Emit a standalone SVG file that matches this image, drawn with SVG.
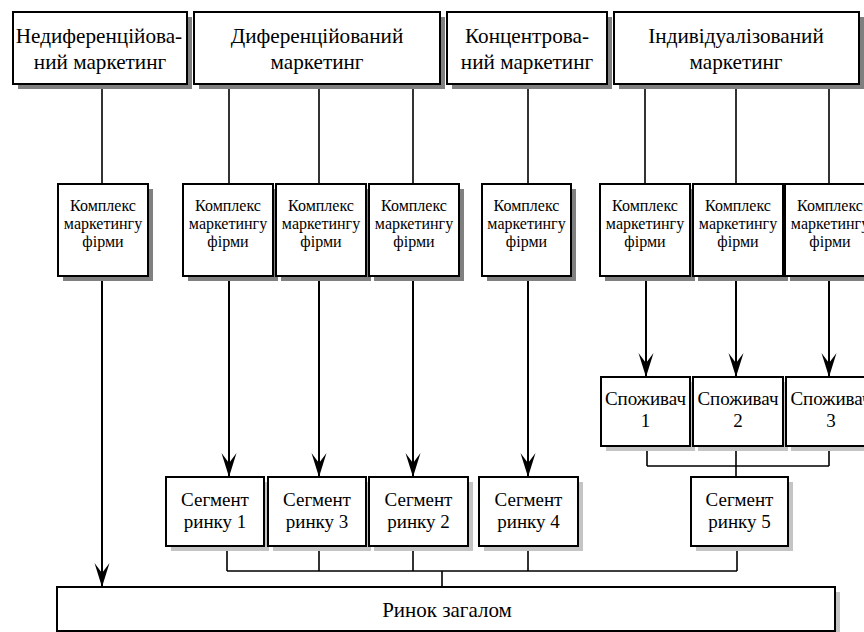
<svg xmlns="http://www.w3.org/2000/svg" width="864" height="632" viewBox="0 0 864 632">
  <defs>
    <style>
      .box { fill: #ffffff; stroke: #000000; stroke-width: 2; }
      .shd { fill: #808080; }
      .shl { fill: #c4c4c4; }
      text { font-family: 'Liberation Serif', 'DejaVu Serif', serif; fill: #000000; text-anchor: middle; }
      .t20 { font-size: 21.2px; }
      .t16 { font-size: 16px; }
      .t19 { font-size: 19px; }
      .t21 { font-size: 21px; }
      .ln { fill: none; stroke: #000000; stroke-width: 1.6; }
      .arr { fill: none; stroke: #000000; stroke-width: 2; marker-end: url(#head); }
    </style>
    <marker id="head" markerUnits="userSpaceOnUse" markerWidth="26" markerHeight="18" viewBox="-25 -9 26 18" refX="0" refY="0" orient="auto">
      <path d="M0,0 L-24,-7.5 L-14,0 L-24,7.5 Z" fill="#000000"/>
    </marker>
  </defs>
  <rect width="864" height="632" fill="#ffffff"/>

  <!-- connectors -->
  <g id="connectors">
    <!-- top boxes to marketing complexes -->
    <path class="ln" d="M102,84 V184 M229,84 V184 M319,84 V184 M413,84 V184 M528,84 V184 M645,84 V184 M736,84 V184 M829,84 V184"/>
    <!-- complexes to segments / consumers / market -->
    <path class="arr" d="M102,276 V587"/>
    <path class="arr" d="M229,276 V477"/>
    <path class="arr" d="M319,276 V477"/>
    <path class="arr" d="M413,276 V477"/>
    <path class="arr" d="M528,276 V477"/>
    <path class="arr" d="M646,276 V377"/>
    <path class="arr" d="M736,276 V377"/>
    <path class="arr" d="M829,276 V377"/>
    <!-- consumers join into segment 5 -->
    <path class="ln" d="M647,446 V466 M736,446 V477 M829,446 V466 M647,466 H829"/>
    <!-- segments join into whole market -->
    <path class="ln" d="M227,546 V571 M319,546 V571 M413,546 V571 M528,546 V571 M737,546 V571 M227,571 H737 M442,571 V587"/>
  </g>

  <g font-family="'Liberation Serif', 'DejaVu Serif', serif">
  <!-- top row: marketing strategies -->
  <g id="undiff">
    <rect class="shd" x="18" y="17" width="174" height="72"/>
    <rect class="box" x="13" y="12" width="174" height="72"/>
    <text class="t20" x="99" y="43">Недиференційова-</text>
    <text class="t20" x="100" y="69">ний маркетинг</text>
  </g>
  <g id="diff">
    <rect class="shd" x="199" y="17" width="246" height="72"/>
    <rect class="box" x="194" y="12" width="246" height="72"/>
    <text class="t20" x="317" y="43">Диференційований</text>
    <text class="t20" x="317" y="69">маркетинг</text>
  </g>
  <g id="conc">
    <rect class="shd" x="452" y="17" width="160" height="72"/>
    <rect class="box" x="447" y="12" width="160" height="72"/>
    <text class="t20" x="527" y="43">Концентрова-</text>
    <text class="t20" x="527" y="69">ний маркетинг</text>
  </g>
  <g id="indiv">
    <rect class="shd" x="619" y="17" width="245" height="72"/>
    <rect class="box" x="614" y="12" width="245" height="72"/>
    <text class="t20" x="736" y="43">Індивідуалізований</text>
    <text class="t20" x="736" y="69">маркетинг</text>
  </g>

  <!-- marketing complexes -->
  <g id="mix1">
    <rect class="shd" x="63" y="189" width="90" height="92"/>
    <rect class="box" x="58" y="184" width="90" height="92"/>
    <text class="t16" x="103" y="211">Комплекс</text>
    <text class="t16" x="103" y="229">маркетингу</text>
    <text class="t16" x="103" y="247">фірми</text>
  </g>
  <g id="mix2">
    <rect class="shd" x="188" y="189" width="90" height="92"/>
    <rect class="box" x="183" y="184" width="90" height="92"/>
    <text class="t16" x="228" y="211">Комплекс</text>
    <text class="t16" x="228" y="229">маркетингу</text>
    <text class="t16" x="228" y="247">фірми</text>
  </g>
  <g id="mix3">
    <rect class="shd" x="281" y="189" width="90" height="92"/>
    <rect class="box" x="276" y="184" width="90" height="92"/>
    <text class="t16" x="321" y="211">Комплекс</text>
    <text class="t16" x="321" y="229">маркетингу</text>
    <text class="t16" x="321" y="247">фірми</text>
  </g>
  <g id="mix4">
    <rect class="shd" x="374" y="189" width="90" height="92"/>
    <rect class="box" x="369" y="184" width="90" height="92"/>
    <text class="t16" x="414" y="211">Комплекс</text>
    <text class="t16" x="414" y="229">маркетингу</text>
    <text class="t16" x="414" y="247">фірми</text>
  </g>
  <g id="mix5">
    <rect class="shd" x="487" y="189" width="89" height="92"/>
    <rect class="box" x="482" y="184" width="89" height="92"/>
    <text class="t16" x="526.5" y="211">Комплекс</text>
    <text class="t16" x="526.5" y="229">маркетингу</text>
    <text class="t16" x="526.5" y="247">фірми</text>
  </g>
  <g id="mix6">
    <rect class="shd" x="605" y="189" width="90" height="92"/>
    <rect class="box" x="600" y="184" width="90" height="92"/>
    <text class="t16" x="645" y="211">Комплекс</text>
    <text class="t16" x="645" y="229">маркетингу</text>
    <text class="t16" x="645" y="247">фірми</text>
  </g>
  <g id="mix7">
    <rect class="shd" x="698" y="189" width="90" height="92"/>
    <rect class="box" x="693" y="184" width="90" height="92"/>
    <text class="t16" x="738" y="211">Комплекс</text>
    <text class="t16" x="738" y="229">маркетингу</text>
    <text class="t16" x="738" y="247">фірми</text>
  </g>
  <g id="mix8">
    <rect class="shd" x="790" y="189" width="90" height="92"/>
    <rect class="box" x="785" y="184" width="90" height="92"/>
    <text class="t16" x="830" y="211">Комплекс</text>
    <text class="t16" x="830" y="229">маркетингу</text>
    <text class="t16" x="830" y="247">фірми</text>
  </g>

  <!-- consumers -->
  <g id="cons1">
    <rect class="shl" x="606" y="382" width="89" height="69"/>
    <rect class="box" x="601" y="377" width="89" height="69"/>
    <text class="t19" x="645.5" y="405">Споживач</text>
    <text class="t19" x="645.5" y="427">1</text>
  </g>
  <g id="cons2">
    <rect class="shl" x="698" y="382" width="90" height="69"/>
    <rect class="box" x="693" y="377" width="90" height="69"/>
    <text class="t19" x="738" y="405">Споживач</text>
    <text class="t19" x="738" y="427">2</text>
  </g>
  <g id="cons3">
    <rect class="shl" x="791" y="382" width="90" height="69"/>
    <rect class="box" x="786" y="377" width="90" height="69"/>
    <text class="t19" x="831" y="405">Споживач</text>
    <text class="t19" x="831" y="427">3</text>
  </g>

  <!-- market segments -->
  <g id="seg1">
    <rect class="shl" x="171" y="482" width="98" height="69"/>
    <rect class="box" x="166" y="477" width="98" height="69"/>
    <text class="t19" x="215" y="506">Сегмент</text>
    <text class="t19" x="215" y="528">ринку 1</text>
  </g>
  <g id="seg3">
    <rect class="shl" x="273" y="482" width="98" height="69"/>
    <rect class="box" x="268" y="477" width="98" height="69"/>
    <text class="t19" x="317" y="506">Сегмент</text>
    <text class="t19" x="317" y="528">ринку 3</text>
  </g>
  <g id="seg2">
    <rect class="shl" x="374" y="482" width="99" height="69"/>
    <rect class="box" x="369" y="477" width="99" height="69"/>
    <text class="t19" x="418.5" y="506">Сегмент</text>
    <text class="t19" x="418.5" y="528">ринку 2</text>
  </g>
  <g id="seg4">
    <rect class="shl" x="484" y="482" width="99" height="69"/>
    <rect class="box" x="479" y="477" width="99" height="69"/>
    <text class="t19" x="528.5" y="506">Сегмент</text>
    <text class="t19" x="528.5" y="528">ринку 4</text>
  </g>
  <g id="seg5">
    <rect class="shl" x="696" y="482" width="97" height="69"/>
    <rect class="box" x="691" y="477" width="97" height="69"/>
    <text class="t19" x="739.5" y="506">Сегмент</text>
    <text class="t19" x="739.5" y="528">ринку 5</text>
  </g>

  <!-- whole market -->
  <g id="market">
    <rect class="shl" x="62" y="592" width="778" height="44"/>
    <rect class="box" x="57" y="587" width="778" height="44"/>
    <text class="t21" x="447" y="617">Ринок загалом</text>
  </g>
  </g>
</svg>
